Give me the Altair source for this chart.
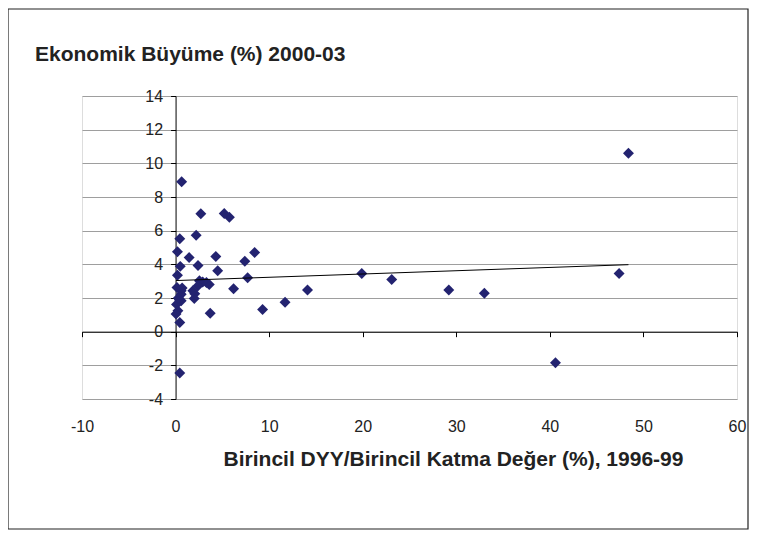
import altair as alt
import pandas as pd

# Primary FDI / primary value added (%), 1996-99
fdi_share = [48.4, 47.4, 40.6, 33.0, 29.2, 23.1, 19.9, 14.1, 11.7, 9.3,
             8.45, 7.7, 7.4, 6.2, 5.75, 5.2, 4.5, 4.3, 3.7, 3.6,
             3.3, 2.9, 2.7, 2.55, 2.4, 2.2, 2.4, 2.05, 2.0, 1.85,
             1.45, 0.65, 0.45, 0.2, 0.5, 0.2, 0.15, 0.6, 0.6, 0.4,
             0.6, 0.1, 0.25, 0.05, 0.45, 0.45, 0.3, 0.7]
# Economic growth (%), 2000-03
growth = [10.6, 3.45, -1.85, 2.28, 2.47, 3.1, 3.45, 2.47, 1.75, 1.32,
          4.7, 3.2, 4.18, 2.55, 6.8, 7.02, 3.62, 4.47, 1.1, 2.8,
          2.92, 2.95, 7.0, 3.02, 3.93, 5.73, 2.73, 2.25, 1.97, 2.43,
          4.4, 8.9, 5.52, 4.75, 3.88, 3.35, 2.62, 2.43, 2.22, 1.9,
          1.84, 1.62, 1.25, 1.05, 0.55, -2.45, 2.0, 2.6]

x_ticks = [-10, 0, 10, 20, 30, 40, 50, 60]
y_ticks = [-4, -2, 0, 2, 4, 6, 8, 10, 12, 14]

y_title = "Ekonomik Büyüme (%) 2000-03"
x_title = "Birincil DYY/Birincil Katma Değer (%), 1996-99"

df = pd.DataFrame({"x": fdi_share, "y": growth})

W, H = 655, 303
FONT = "Liberation Sans"
x0_px = W * 10 / 70.0          # pixel position of x = 0
y0_off = H * 4 / 18.0          # distance of y = 0 from the bottom

xs = alt.Scale(domain=[-10, 60], nice=False, zero=False)
ys = alt.Scale(domain=[-4, 14], nice=False, zero=False)

x_axis = alt.Axis(
    values=x_ticks, grid=False, offset=-y0_off,
    domainColor="black", tickColor="black", tickSize=5,
    labelFont=FONT, labelFontSize=16, labelColor="#222222",
    labelPadding=82, labelFlush=False, labelOverlap=False,
    labelExpr="'' + datum.value",
    title=x_title,
    titleFont=FONT, titleFontSize=21, titleFontWeight="bold",
    titleColor="#222222", titleAnchor="start", titleAlign="center",
    titleX=371, titleY=128, titleBaseline="middle")

y_axis = alt.Axis(
    values=y_ticks, grid=True, gridColor="#9e9e9e", gridWidth=1.2,
    offset=-x0_px, domainColor="black", tickColor="black", tickSize=5,
    labelFont=FONT, labelFontSize=16, labelColor="#222222",
    labelOverlap=False, labelExpr="'' + datum.value",
    labelPadding=8, title=None)

base = alt.Chart(df)

points = base.mark_point(shape="diamond", filled=True, size=120,
                         color="#232370", opacity=1).encode(
    x=alt.X("x:Q", scale=xs, axis=x_axis),
    y=alt.Y("y:Q", scale=ys, axis=y_axis),
)

trend = base.transform_regression("x", "y").mark_line(
    color="black", strokeWidth=1).encode(
    x=alt.X("x:Q", scale=xs, axis=x_axis),
    y=alt.Y("y:Q", scale=ys, axis=y_axis),
)

one = pd.DataFrame({"k": [0]})

frame = alt.Chart(one).mark_rect(
    fill=None, stroke="#222222", strokeWidth=1.2).encode(
    x=alt.value(-74), x2=alt.value(W + 11),
    y=alt.value(-87), y2=alt.value(H + 130),
)

ytitle = alt.Chart(one).mark_text(
    align="left", baseline="middle", font=FONT, fontSize=21,
    fontWeight="bold", color="#222222").encode(
    x=alt.value(-47), y=alt.value(-41), text=alt.value(y_title))

chart = alt.layer(points, trend, frame, ytitle).properties(
    width=W, height=H,
    autosize=alt.AutoSizeParams(type="none"),
    padding={"left": 74, "top": 88, "right": 12, "bottom": 131},
).configure_view(stroke=None).configure(background="white")

chart.save("out.html", embed_options={"renderer": "svg", "actions": False})
